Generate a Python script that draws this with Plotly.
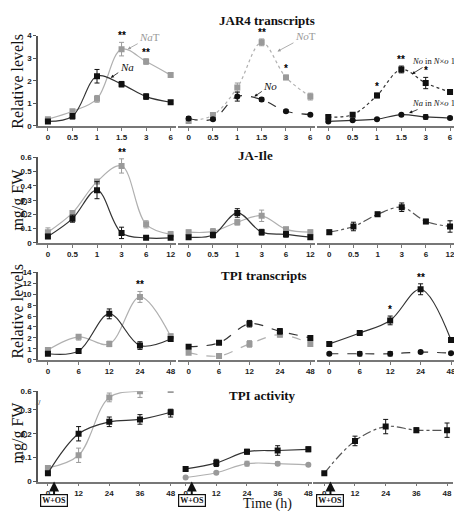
import plotly.graph_objects as go

W, H = 462, 511

# ---------------- DATA ----------------
# JAR4 transcripts (relative levels)
jar_time = ["0", "0.5", "1", "1.5", "3", "6"]
jar_na = [0.2, 0.43, 2.2, 1.85, 1.3, 1.05]
jar_na_err = [0.05, 0.12, 0.3, 0.12, 0.12, 0.06]
jar_nat = [0.3, 0.65, 1.2, 3.4, 2.85, 2.25]
jar_nat_err = [0.06, 0.06, 0.15, 0.3, 0.12, 0.08]
jar_nat_stars = ["", "", "", "**", "**", ""]
jar_no = [0.33, 0.3, 1.3, 1.17, 0.65, 0.5]
jar_no_err = [0.08, 0.06, 0.2, 0.08, 0.06, 0.05]
jar_not = [0.22, 0.48, 1.7, 3.7, 2.15, 1.3]
jar_not_err = [0.06, 0.06, 0.2, 0.15, 0.1, 0.15]
jar_not_stars = ["", "", "", "**", "*", ""]
jar_no_nxo = [0.4, 0.5, 1.35, 2.5, 1.9, 1.5]
jar_no_nxo_err = [0.06, 0.06, 0.1, 0.15, 0.25, 0.05]
jar_no_nxo_stars = ["", "", "*", "**", "*", ""]
jar_na_nxo = [0.2, 0.25, 0.3, 0.5, 0.4, 0.35]
jar_na_nxo_err = [0.04, 0.05, 0.04, 0.05, 0.1, 0.05]

# JA-Ile (mg/g FW)
ja_time = ["0", "0.5", "1", "3", "6", "12"]
ja_na = [0.045, 0.17, 0.37, 0.07, 0.035, 0.035]
ja_na_err = [0.015, 0.025, 0.06, 0.04, 0.01, 0.01]
ja_nat = [0.075, 0.21, 0.43, 0.54, 0.13, 0.06]
ja_nat_err = [0.03, 0.015, 0.015, 0.05, 0.025, 0.02]
ja_nat_stars = ["", "", "", "**", "", ""]
ja_no = [0.04, 0.055, 0.21, 0.075, 0.06, 0.04]
ja_no_err = [0.01, 0.02, 0.03, 0.02, 0.02, 0.015]
ja_not = [0.075, 0.08, 0.145, 0.19, 0.095, 0.075]
ja_not_err = [0.015, 0.02, 0.02, 0.04, 0.015, 0.015]
ja_nxo = [0.075, 0.115, 0.2, 0.25, 0.15, 0.115]
ja_nxo_err = [0.015, 0.03, 0.015, 0.03, 0.015, 0.04]

# TPI transcripts (relative levels)
tpt_time = ["0", "6", "12", "24", "48"]
tpt_na = [0.55, 0.8, 6.4, 1.3, 1.9]
tpt_na_err = [0.15, 0.15, 0.9, 0.35, 0.2]
tpt_nat = [0.9, 2.2, 1.45, 9.5, 2.3]
tpt_nat_err = [0.15, 0.4, 0.25, 1.0, 0.4]
tpt_nat_stars = ["", "", "", "**", ""]
tpt_no = [1.2, 1.55, 4.6, 3.2, 2.0]
tpt_no_err = [0.15, 0.15, 0.6, 0.5, 0.2]
tpt_not = [0.65, 0.35, 1.45, 2.6, 1.45]
tpt_not_err = [0.1, 0.1, 0.3, 0.4, 0.15]
tpt_nxo_a = [1.45, 2.9, 5.2, 10.9, 1.8]
tpt_nxo_a_err = [0.15, 0.2, 0.8, 1.0, 0.2]
tpt_nxo_a_stars = ["", "", "*", "**", ""]
tpt_nxo_b = [0.55, 0.55, 0.55, 0.7, 0.6]
tpt_nxo_b_err = [0.1, 0.2, 0.2, 0.1, 0.1]
tpt_ticks = [0, 1, 2, 4, 6, 8, 10, 12, 14]

# TPI activity (mg/g FW)
tpa_time = ["0", "12", "24", "36", "48"]
tpa_na = [0.035, 0.2, 0.25, 0.26, 0.29]
tpa_na_err = [0.005, 0.03, 0.02, 0.02, 0.02]
tpa_nat = [0.057, 0.11, 0.5, 0.6, 0.62]
tpa_nat_err = [0.008, 0.03, 0.07, 0.1, 0.01]
tpa_nat_stars = ["", "", "", "*", ""]
tpa_no = [0.053, 0.078, 0.125, 0.13, 0.135]
tpa_no_err = [0.005, 0.015, 0.01, 0.02, 0.01]
tpa_not = [0.017, 0.037, 0.075, 0.075, 0.07]
tpa_not_err = [0.003, 0.005, 0.01, 0.008, 0.005]
tpa_nxo = [0.035, 0.17, 0.23, 0.215, 0.215]
tpa_nxo_err = [0.003, 0.02, 0.03, 0.01, 0.03]
tpa_ticks = [0, 0.1, 0.2, 0.3, 0.6]


# ------------- axis scale helpers (broken axes) -------------
def ident(v):
    return v


def tpt_scale(v):
    return v if v <= 2 else 2 + (v - 2) / 2


def tpa_scale(v):
    return v if v <= 0.3 else 0.3 + (v - 0.3) * 0.26


BLACK_M, BLACK_L = "#111111", "#333333"
GRAY_M, GRAY_L = "#9a9a9a", "#b0b0b0"
TICKFONT = dict(family="Liberation Sans", size=8, color="#222", weight="bold")
SERIF = "Liberation Serif"

fig = go.Figure()
annotations = []


def xd(a, b):
    return [a / W, b / W]


def yd(top, bot):
    return [1 - bot / H, 1 - top / H]


rows = [
    dict(ypx=(24, 116), yr=[0, 4], tv=[0, 1, 2, 3, 4], tt=["0", "1", "2", "3", "4"], f=ident),
    dict(ypx=(148, 235), yr=[0, 0.6], tv=[0, 0.1, 0.2, 0.3, 0.4, 0.5, 0.6],
         tt=["0", "0.1", "0.2", "0.3", "0.4", "0.5", "0.6"], f=ident),
    dict(ypx=(265, 354), yr=[0, tpt_scale(14)], tv=[tpt_scale(t) for t in tpt_ticks],
         tt=[str(t) for t in tpt_ticks], f=tpt_scale),
    dict(ypx=(386, 478), yr=[0, tpa_scale(0.6)], tv=[tpa_scale(t) for t in tpa_ticks],
         tt=["0", "0.1", "0.2", "0.3", "0.6"], f=tpa_scale),
]
xpix = [
    [(30, 168, 40, 163), (170, 308, 181, 303), (310, 450, 321, 443)],
    [(30, 168, 40, 163), (170, 308, 181, 303), (310, 450, 322, 443)],
    [(30, 168, 40, 163), (170, 308, 181, 303), (310, 450, 322, 444)],
    [(30, 168, 40, 163), (168, 305, 178, 301), (306, 446, 317, 440)],
]
row_labels = [jar_time, ja_time, tpt_time, tpa_time]


def ax_name(k):
    return "" if k == 1 else str(k)


for r in range(4):
    for c in range(3):
        k = r * 3 + c + 1
        a, b, c0, c1 = xpix[r][c]
        labels = row_labels[r]
        n = len(labels)
        unit = (c1 - c0) / (n - 1)
        rng = [-(c0 - a) / unit, (n - 1) + (b - c1) / unit]
        fig.layout["xaxis" + ax_name(k)] = dict(
            domain=xd(a, b), range=rng, anchor="y" + ax_name(k),
            tickvals=list(range(n)), ticktext=labels, showline=True,
            linecolor="#777", linewidth=1.5, ticks="outside", ticklen=3,
            tickcolor="#777", tickfont=TICKFONT, showgrid=False, zeroline=False,
            fixedrange=True)
        rr = rows[r]
        fig.layout["yaxis" + ax_name(k)] = dict(
            domain=yd(*rr["ypx"]), range=rr["yr"], anchor="x" + ax_name(k),
            tickvals=rr["tv"], ticktext=rr["tt"], showline=(c == 0),
            linecolor="#555", linewidth=1.5, ticks="outside" if c == 0 else "",
            ticklen=3, tickcolor="#555", tickfont=TICKFONT,
            showticklabels=(c == 0), showgrid=False, zeroline=False, fixedrange=True)


def add_series(k, vals, errs, f, color_m, color_l, dash="solid", symbol="square", stars=None):
    n = len(vals)
    xs = list(range(n))
    ys = [f(v) for v in vals]
    up = [f(v + e) - f(v) for v, e in zip(vals, errs)]
    dn = [f(v) - f(v - e) for v, e in zip(vals, errs)]
    fig.add_trace(go.Scatter(
        x=xs, y=ys, mode="lines+markers", xaxis="x" + ax_name(k), yaxis="y" + ax_name(k),
        line=dict(color=color_l, width=1.2, dash=dash, shape="spline", smoothing=1.0),
        marker=dict(color=color_m, size=6, symbol=symbol),
        error_y=dict(type="data", array=up, arrayminus=dn, color=color_m, thickness=1, width=2.5),
        showlegend=False, hoverinfo="skip"))
    if stars:
        for i, s in enumerate(stars):
            if s:
                annotations.append(dict(
                    x=i, y=f(vals[i] + errs[i]), xref="x" + ax_name(k), yref="y" + ax_name(k),
                    text="<b>" + s + "</b>", showarrow=False, yanchor="bottom", yshift=-1,
                    xanchor="center",
                    font=dict(family="Liberation Sans", size=10, color="#000000")))


# Row 1 JAR4
add_series(1, jar_nat, jar_nat_err, ident, GRAY_M, GRAY_L, stars=jar_nat_stars)
add_series(1, jar_na, jar_na_err, ident, BLACK_M, BLACK_L)
add_series(2, jar_not, jar_not_err, ident, GRAY_M, GRAY_L, dash="dot", stars=jar_not_stars)
add_series(2, jar_no, jar_no_err, ident, BLACK_M, BLACK_L, dash="dash", symbol="circle")
add_series(3, jar_no_nxo, jar_no_nxo_err, ident, BLACK_M, BLACK_L, dash="dot", stars=jar_no_nxo_stars)
add_series(3, jar_na_nxo, jar_na_nxo_err, ident, BLACK_M, BLACK_L, symbol="circle")
# Row 2 JA-Ile
add_series(4, ja_nat, ja_nat_err, ident, GRAY_M, GRAY_L, stars=ja_nat_stars)
add_series(4, ja_na, ja_na_err, ident, BLACK_M, BLACK_L)
add_series(5, ja_not, ja_not_err, ident, GRAY_M, GRAY_L)
add_series(5, ja_no, ja_no_err, ident, BLACK_M, BLACK_L)
add_series(6, ja_nxo, ja_nxo_err, ident, BLACK_M, "#555", dash="dashdot")
# Row 3 TPI transcripts
add_series(7, tpt_nat, tpt_nat_err, tpt_scale, GRAY_M, GRAY_L, stars=tpt_nat_stars)
add_series(7, tpt_na, tpt_na_err, tpt_scale, BLACK_M, BLACK_L)
add_series(8, tpt_not, tpt_not_err, tpt_scale, GRAY_M, GRAY_L, dash="dash")
add_series(8, tpt_no, tpt_no_err, tpt_scale, BLACK_M, BLACK_L, dash="dash")
add_series(9, tpt_nxo_a, tpt_nxo_a_err, tpt_scale, BLACK_M, BLACK_L, stars=tpt_nxo_a_stars)
add_series(9, tpt_nxo_b, tpt_nxo_b_err, tpt_scale, BLACK_M, BLACK_L, dash="dash", symbol="circle")
# Row 4 TPI activity
add_series(10, tpa_nat, tpa_nat_err, tpa_scale, GRAY_M, GRAY_L, stars=tpa_nat_stars)
add_series(10, tpa_na, tpa_na_err, tpa_scale, BLACK_M, BLACK_L)
add_series(11, tpa_not, tpa_not_err, tpa_scale, GRAY_M, GRAY_L, symbol="circle")
add_series(11, tpa_no, tpa_no_err, tpa_scale, BLACK_M, BLACK_L)
add_series(12, tpa_nxo, tpa_nxo_err, tpa_scale, BLACK_M, "#555", dash="dashdot")

# Titles
for txt, xp, yp in [("JAR4 transcripts", 260, 9), ("JA-Ile", 248, 146),
                    ("TPI transcripts", 257, 268), ("TPI activity", 255, 390)]:
    annotations.append(dict(x=xp / W, y=1 - yp / H, xref="paper", yref="paper",
                            text="<b>" + txt + "</b>", showarrow=False,
                            xanchor="center", yanchor="middle",
                            font=dict(family=SERIF, size=13, color="#111")))

# Y-axis titles
for txt, yp in [("Relative levels", 70), ("mg/g FW", 191), ("Relative levels", 304), ("mg/g FW", 428)]:
    annotations.append(dict(x=10 / W, y=1 - yp / H, xref="paper", yref="paper", text=txt,
                            textangle=-90, showarrow=False, xanchor="center", yanchor="middle",
                            font=dict(family=SERIF, size=16, color="#111")))

# Series labels with arrows (row 1)
lab_font_g = dict(family=SERIF, size=11, color="#999")
lab_font_b = dict(family=SERIF, size=11, color="#111")
lab_font_s = dict(family=SERIF, size=8.5, color="#111")
for (k, hx, hy, ax, ay, txt, fnt, col) in [
    (1, 3.25, 3.4, 22, -12, "<i>Na</i>T", lab_font_g, "#999"),
    (1, 2.56, 2.13, 16, -11, "<i>Na</i>", lab_font_b, "#111"),
    (2, 3.65, 3.3, 28, -15, "<i>No</i>T", lab_font_g, "#999"),
    (2, 2.7, 1.3, 16, -11, "<i>No</i>", lab_font_b, "#111"),
    (3, 3.44, 2.3, 21, -13, "<i>No</i> in <i>N</i>×<i>o</i> 1", lab_font_s, "#111"),
    (3, 3.32, 0.57, 24, -10, "<i>Na</i> in <i>N</i>×<i>o</i> 1", lab_font_s, "#111"),
]:
    annotations.append(dict(x=hx, y=hy, xref="x" + ax_name(k), yref="y" + ax_name(k),
                            text=txt, showarrow=True, ax=ax, ay=ay, arrowhead=2,
                            arrowsize=0.8, arrowwidth=0.8, arrowcolor=col, font=fnt,
                            xanchor="center", yanchor="middle", standoff=0, startstandoff=0))

# W+OS markers
for k in (10, 11, 12):
    annotations.append(dict(x=0.2, y=0, xref="x" + ax_name(k), yref="y" + ax_name(k),
                            text="<b>W+OS</b>", showarrow=True, ax=0, ay=19,
                            arrowhead=2, arrowsize=1, arrowwidth=2, arrowcolor="#111",
                            bordercolor="#111", borderwidth=1.2, borderpad=1, bgcolor="white",
                            font=dict(family=SERIF, size=8, color="#111")))

# Break mark on TPI activity axis
annotations.append(dict(x=31 / W, y=1 - 398 / H, xref="paper", yref="paper", text="//",
                        showarrow=False, xanchor="center", yanchor="middle",
                        font=dict(family="Liberation Sans", size=8, color="#555")))

# X-axis title
annotations.append(dict(x=260 / W, y=1 - 501 / H, xref="paper", yref="paper", text="Time (h)",
                        showarrow=False, xanchor="center", yanchor="middle",
                        font=dict(family=SERIF, size=14, color="#111")))

fig.update_layout(width=W, height=H, margin=dict(l=0, r=0, t=0, b=0),
                  plot_bgcolor="white", paper_bgcolor="white", annotations=annotations,
                  showlegend=False)

fig.write_html("out.html")
